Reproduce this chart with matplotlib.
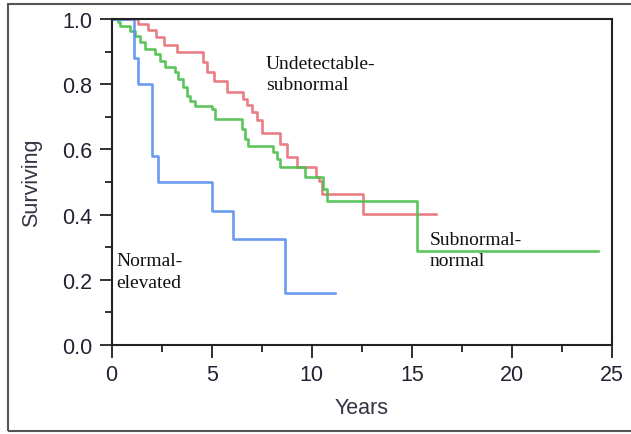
import matplotlib
matplotlib.use("Agg")
import matplotlib.pyplot as plt
from matplotlib.patches import Rectangle
from matplotlib.ticker import MultipleLocator

# Kaplan-Meier step curves (time in years, survival fraction)
blue_t = [0, 1.1, 1.3, 2.0, 2.3, 5.0, 6.05, 8.65, 11.15]
blue_s = [1.0, 0.88, 0.80, 0.58, 0.50, 0.41, 0.325, 0.16, 0.16]

red_t = [0, 1.3, 1.8, 2.2, 2.6, 3.25, 4.58, 4.75, 5.1, 5.75, 6.55, 6.75, 7.0,
         7.25, 7.5, 8.4, 8.75, 9.25, 10.2, 10.35, 10.5, 12.57, 16.2]
red_s = [1.0, 0.985, 0.965, 0.945, 0.92, 0.898, 0.867, 0.837, 0.81, 0.775, 0.755,
         0.735, 0.715, 0.69, 0.65, 0.617, 0.576, 0.545, 0.514, 0.504, 0.463, 0.402, 0.402]

green_t = [0, 0.3, 0.42, 0.9, 1.17, 1.42, 1.67, 2.17, 2.42, 2.67, 3.17, 3.33, 3.58,
           3.75, 3.92, 4.17, 5.0, 5.17, 6.5, 6.67, 6.83, 8.08, 8.25, 8.42, 9.67,
           10.58, 10.75, 15.25, 24.3]
green_s = [1.0, 0.99, 0.98, 0.964, 0.949, 0.928, 0.908, 0.893, 0.872, 0.852, 0.837,
           0.816, 0.79, 0.765, 0.749, 0.734, 0.724, 0.693, 0.663, 0.632, 0.611, 0.591,
           0.571, 0.545, 0.514, 0.479, 0.443, 0.289, 0.289]

labels = ["Normal-\nelevated", "Undetectable-\nsubnormal", "Subnormal-\nnormal"]

fig = plt.figure(figsize=(6.31, 4.35), dpi=100)
ax = fig.add_axes([0.177, 0.2046, 0.793, 0.7494])

ax.step(red_t, red_s, where="post", color="#e8707a", lw=1.9, alpha=0.9)
ax.step(green_t, green_s, where="post", color="#4cbf4c", lw=1.9, alpha=0.9)
ax.step(blue_t, blue_s, where="post", color="#5b8ff0", lw=1.9, alpha=0.9)

serif = dict(family="Liberation Serif", fontsize=14, color="#111111", va="top",
             linespacing=1.35)
ax.text(0.22, 0.285, labels[0], **serif)
ax.text(7.7, 0.89, labels[1], **serif)
ax.text(15.9, 0.35, labels[2], **serif)

ax.set_xlim(0, 25)
ax.set_ylim(0, 1.0)
ax.xaxis.set_major_locator(MultipleLocator(5))
ax.xaxis.set_minor_locator(MultipleLocator(2.5))
ax.yaxis.set_major_locator(MultipleLocator(0.2))
ax.yaxis.set_minor_locator(MultipleLocator(0.1))
ax.yaxis.set_major_formatter(plt.FormatStrFormatter("%.1f"))

for s in ax.spines.values():
    s.set_linewidth(1.5)
    s.set_color("#222222")
ax.tick_params(which="major", length=9, width=1.3, color="#222222",
               labelsize=15.5, labelcolor="#222233", pad=5)
ax.tick_params(which="minor", length=5, width=1.3, color="#222222")
for lab in ax.get_xticklabels() + ax.get_yticklabels():
    lab.set_family("Liberation Sans")

ax.set_xlabel("Years", fontsize=15.5, family="Liberation Sans", color="#333344", labelpad=8)
ax.set_ylabel("Surviving", fontsize=15.5, family="Liberation Sans", color="#333344", labelpad=14)

fig.patches.append(Rectangle((8 / 631, 1 - 432 / 435), 1.2, (432 - 5) / 435,
                             transform=fig.transFigure, fill=False,
                             edgecolor="#555555", lw=1.5))

fig.savefig("out.png", dpi=100)
